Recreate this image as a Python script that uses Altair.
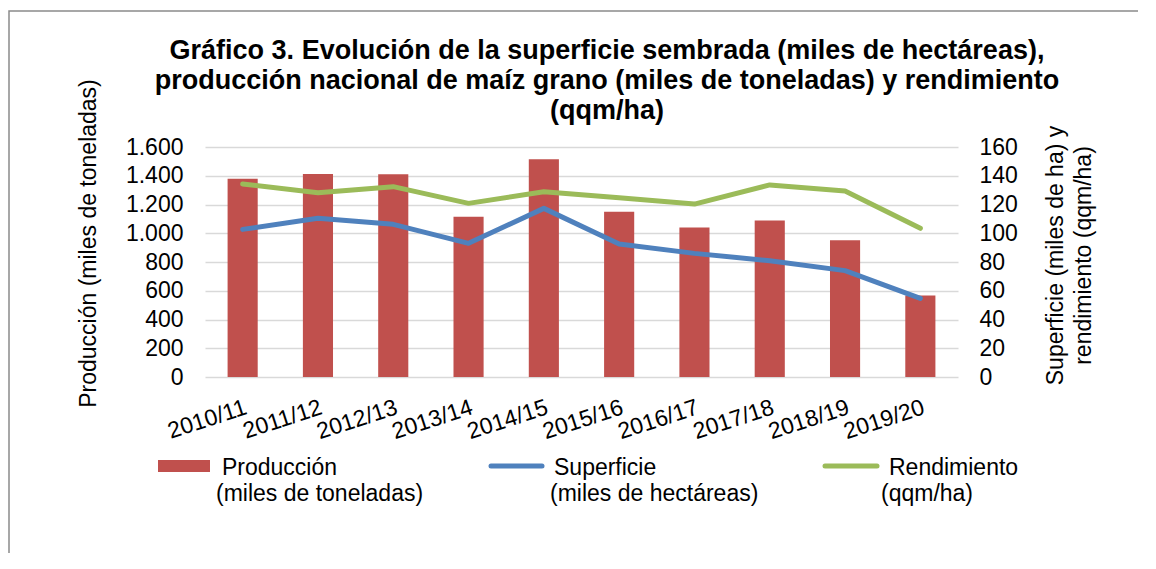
import altair as alt
import pandas as pd

# ---- data ----
seasons = ["2010/11", "2011/12", "2012/13", "2013/14", "2014/15",
           "2015/16", "2016/17", "2017/18", "2018/19", "2019/20"]
produccion = [1380, 1412, 1410, 1115, 1515, 1150, 1040, 1088, 952, 567]
superficie = [102.7, 110.4, 106.2, 93.0, 117.3, 92.5, 86.0, 80.9, 74.0, 54.7]
rendimiento = [134.3, 128.2, 132.4, 120.8, 128.9, 124.7, 120.3, 133.6, 129.4, 103.4]

title_lines = [
    "Gráfico 3. Evolución de la superficie sembrada (miles de hectáreas),",
    "producción nacional de maíz grano (miles de toneladas) y rendimiento",
    "(qqm/ha)",
]
legend_line1 = ["Producción", "Superficie", "Rendimiento"]
legend_line2 = ["(miles de toneladas)", "(miles de hectáreas)", "(qqm/ha)"]
left_title = "Producción (miles de toneladas)"
right_title = ["Superficie (miles de ha) y", "rendimiento (qqm/ha)"]

RED, BLUE, GREEN = "#C0504D", "#4F81BD", "#9BBB59"
FONT = "Liberation Sans"

df = pd.DataFrame({"season": seasons, "prod": produccion,
                   "sup": superficie, "rend": rendimiento})
one = pd.DataFrame({"k": [0]})

x_enc = alt.X("season:N", sort=seasons,
              scale=alt.Scale(paddingInner=0.6, paddingOuter=0.3),
              axis=alt.Axis(title=None, labelAngle=342, labelAlign="right",
                            labelBaseline="top", labelPadding=19, ticks=False,
                            domain=False, labelOverlap=False, labelFontSize=23,
                            labelFont=FONT, labelColor="black"))

bars = alt.Chart(df).mark_bar(color=RED).encode(
    x=x_enc,
    y=alt.Y("prod:Q", scale=alt.Scale(domain=[0, 1600], nice=False),
            axis=alt.Axis(values=list(range(0, 1601, 200)),
                          labelExpr="replace(datum.label, ',', '.')",
                          title=left_title, titleAngle=270, titleX=-117, titleY=96,
                          titleAlign="center", titleBaseline="middle",
                          labelPadding=22, ticks=False, domain=False, grid=True,
                          gridColor="#D9D9D9", gridWidth=1.5,
                          labelFontSize=23, titleFontSize=23, titleFontWeight="normal",
                          labelFont=FONT, titleFont=FONT,
                          labelColor="black", titleColor="black")),
)

lines = alt.Chart(df).transform_fold(["sup", "rend"], as_=["serie", "value"]).mark_line(
    strokeWidth=5, strokeCap="round", strokeJoin="round"
).encode(
    x=x_enc,
    y=alt.Y("value:Q", scale=alt.Scale(domain=[0, 160], nice=False),
            axis=alt.Axis(orient="right", values=list(range(0, 161, 20)),
                          title=right_title, titleAngle=270, titleX=97, titleY=108,
                          titleAlign="center", titleBaseline="middle", titleLineHeight=28,
                          labelPadding=21, ticks=False, domain=False, grid=False,
                          labelFontSize=23, titleFontSize=23, titleFontWeight="normal",
                          labelFont=FONT, titleFont=FONT,
                          labelColor="black", titleColor="black")),
    color=alt.Color("serie:N", scale=alt.Scale(domain=["sup", "rend"], range=[BLUE, GREEN]),
                    legend=None),
    detail="serie:N",
)

decor = []
# outer frame
decor.append(alt.Chart(one).mark_rect(fillOpacity=0, stroke="#8A8A8A", strokeWidth=1.5).encode(
    x=alt.value(-196), x2=alt.value(1500), y=alt.value(-136), y2=alt.value(1000)))

# title lines
for t, yb in zip(title_lines, [-88, -58, -28]):
    decor.append(alt.Chart(one).mark_text(font=FONT, fontSize=27, fontWeight="bold",
                                          align="center", baseline="alphabetic",
                                          color="black").encode(
        x=alt.value(402), y=alt.value(yb), text=alt.value(t)))

# legend symbols
decor.append(alt.Chart(one).mark_rect(color=RED).encode(
    x=alt.value(-47), x2=alt.value(5), y=alt.value(313), y2=alt.value(325)))
decor.append(alt.Chart(one).mark_rule(color=BLUE, strokeWidth=5, strokeCap="round").encode(
    x=alt.value(286), x2=alt.value(337), y=alt.value(319)))
decor.append(alt.Chart(one).mark_rule(color=GREEN, strokeWidth=5, strokeCap="round").encode(
    x=alt.value(620), x2=alt.value(672), y=alt.value(319)))

# legend texts
for t1, t2, x1, x2 in zip(legend_line1, legend_line2, [17, 349, 684], [11, 345, 676]):
    decor.append(alt.Chart(one).mark_text(font=FONT, fontSize=23, align="left",
                                          baseline="alphabetic", color="black").encode(
        x=alt.value(x1), y=alt.value(328), text=alt.value(t1)))
    decor.append(alt.Chart(one).mark_text(font=FONT, fontSize=23, align="left",
                                          baseline="alphabetic", color="black").encode(
        x=alt.value(x2), y=alt.value(354), text=alt.value(t2)))

chart = alt.layer(bars, lines, *decor).resolve_scale(
    y="independent", color="independent"
).properties(
    width=753, height=230,
    autosize=alt.AutoSizeParams(type="none"),
    padding={"left": 197, "top": 139, "right": 180, "bottom": 176},
    background="white",
).configure_view(stroke=None)

chart.save("out.html", embed_options={"renderer": "svg", "actions": False})
